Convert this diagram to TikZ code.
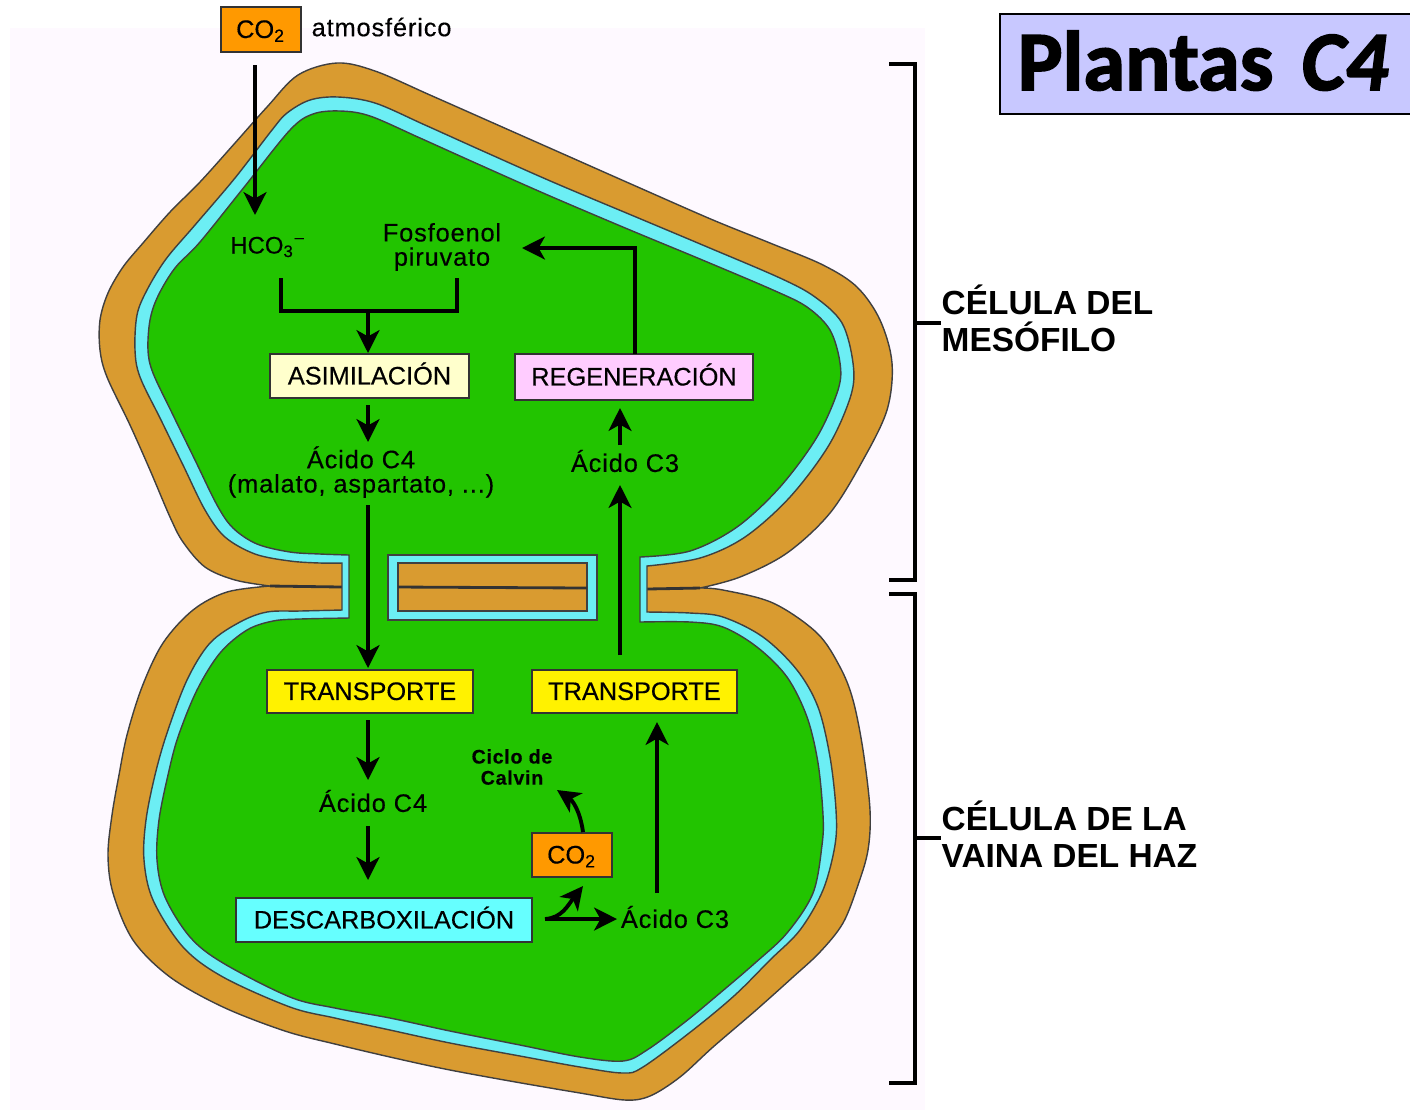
\documentclass[tikz,border=0pt]{standalone}
\usepackage{fontspec}
\setmainfont{Liberation Sans}
\newfontfamily\spacedfont{Liberation Sans}[LetterSpace=3.5,FakeBold=0.35]
\newfontfamily\boxfont{Liberation Sans}[FakeBold=0.35]
\newfontfamily\titlefont{Carlito}[BoldFeatures={FakeBold=2},BoldItalicFeatures={FakeBold=2}]
\usetikzlibrary{arrows.meta}

\definecolor{panelbg}{HTML}{FEF9FF}
\definecolor{wallbrown}{HTML}{D99B30}
\definecolor{rimcyan}{HTML}{6CEEF4}
\definecolor{leafgreen}{HTML}{22C400}
\definecolor{co2orange}{HTML}{FF9900}
\definecolor{titleblue}{HTML}{C8C8FF}
\definecolor{creambox}{HTML}{FFFFCC}
\definecolor{pinkbox}{HTML}{FFCCFF}
\definecolor{cyanbox}{HTML}{66FFFF}

\tikzset{
  shapeline/.style={draw=black!75, line width=0.4pt},
  box/.style={draw=black!80, line width=0.4pt, inner sep=0pt, text height=4.8pt, text depth=0pt, font=\fontsize{7.2}{8.6}\selectfont\boxfont},
  label/.style={inner sep=0pt, align=center, font=\fontsize{7.2}{6.9}\selectfont\spacedfont},
  side/.style={inner sep=0pt, anchor=west, align=left, font=\fontsize{9.5}{10.6}\selectfont\bfseries},
  flow/.style={-{Stealth[length=6.5pt,width=6.5pt,inset=1.8pt]}, line width=1.1pt},
  plain/.style={line width=1.1pt}
}

\begin{document}
\begin{tikzpicture}[x=0.01cm, y=-0.01cm]
    \useasboundingbox (0,0) rectangle (1410,1114);
    \fill[white] (0,0) rectangle (1410,1114);
    \fill[panelbg] (10,28) rectangle (925,1110);

    % Outer wall of both cells
    \draw[shapeline, fill=wallbrown]
      plot[smooth, tension=0.55] coordinates {(270,586) (235,580) (205,567) (183,542) (170,517) (150,470) (130,425) (107,377) (100,350) (100,320) (108,293) (123,267) (143,243) (170,212) (200,182) (235,143) (267,107) (298,75) (337,63) (375,71) (430,95) (500,126) (570,157) (640,188) (713,220) (770,243) (823,265) (857,287) (880,320) (892,363) (887,410) (863,460) (830,513) (787,553) (740,577) (700,588)}
      -- plot[smooth, tension=0.55] coordinates {(700,588) (723,590) (773,603) (817,633) (840,667) (853,700) (863,750) (870,810) (868,850) (858,885) (843,923) (820,952) (793,977) (755,1011) (713,1047) (680,1077) (650,1096) (625,1100) (580,1093) (510,1081) (445,1069) (390,1057) (335,1044) (285,1031) (223,1007) (170,977) (133,940) (113,893) (108,855) (112,815) (119,775) (127,735) (142,687) (163,643) (193,610) (227,592) (270,586)}
      -- cycle;
    \draw[black!80, line width=0.8pt] (270,586) -- (342,587);
    \draw[black!80, line width=0.8pt] (647,589) -- (700,588);

    % Cyan rim
    \draw[shapeline, fill=rimcyan]
      plot[smooth, tension=0.55] coordinates {(342,563) (320,563) (290,561) (255,554) (225,537) (205,510) (183,465) (161,420) (140,377) (135,350) (137,315) (147,290) (166,259) (195,225) (235,178) (272,130) (287,113) (310,100) (338,97) (375,103) (425,125) (485,152) (555,183) (636,217) (705,246) (780,278) (815,297) (842,323) (853,363) (851,395) (829,445) (790,497) (745,537) (700,558) (647,566)}
      -- plot[smooth, tension=0.55] coordinates {(647,612) (690,613) (723,617) (763,637) (797,670) (818,707) (830,757) (836,810) (835,845) (823,890) (800,930) (770,960) (735,995) (693,1030) (643,1067) (623,1073) (580,1067) (520,1056) (450,1043) (390,1030) (335,1018) (290,1007) (223,977) (183,947) (153,900) (144,860) (146,820) (155,775) (167,733) (187,680) (210,643) (240,622) (267,612) (300,611) (342,610)}
      -- cycle;

    % Green stroma
    \draw[shapeline, fill=leafgreen]
      plot[smooth, tension=0.55] coordinates {(349,555) (320,554) (290,552) (257,544) (233,528) (217,505) (195,460) (173,415) (153,373) (148,350) (150,320) (158,296) (175,268) (200,242) (245,186) (290,130) (313,114) (340,111) (370,116) (420,138) (480,165) (550,196) (630,230) (700,259) (773,290) (807,307) (830,330) (840,363) (838,390) (817,437) (780,487) (737,527) (690,551) (640,557)}
      -- plot[smooth, tension=0.55] coordinates {(640,622) (690,622) (723,627) (757,647) (787,677) (807,717) (818,763) (823,815) (822,845) (813,893) (787,933) (755,963) (720,993) (685,1022) (647,1050) (623,1061) (580,1057) (520,1045) (450,1031) (390,1018) (335,1008) (290,997) (223,963) (190,937) (165,897) (157,860) (159,820) (168,775) (178,737) (197,690) (220,653) (247,630) (273,621) (300,619) (349,618)}
      -- cycle;

    % Block between the two channels
    \draw[shapeline, fill=rimcyan] (388,555) rectangle (597,620);
    \draw[shapeline, fill=wallbrown] (398,563) rectangle (587,611);
    \draw[black!80, line width=0.8pt] (398,587) -- (587,588);

    % Boxes
    \node[box, fill=co2orange, minimum width=0.8cm, minimum height=0.45cm] at (261,29.5) (co2top) {CO\textsubscript{2}};
    \node[box, fill=creambox, minimum width=1.99cm, minimum height=0.44cm] at (369.5,376) (asimilacion) {ASIMILACIÓN};
    \node[box, fill=pinkbox, minimum width=2.38cm, minimum height=0.46cm] at (634,377) (regeneracion) {REGENERACIÓN};
    \node[box, fill=yellow, minimum width=2.06cm, minimum height=0.43cm] at (370,691.5) (transporteL) {TRANSPORTE};
    \node[box, fill=yellow, minimum width=2.05cm, minimum height=0.43cm] at (634.5,691.5) (transporteR) {TRANSPORTE};
    \node[box, fill=cyanbox, minimum width=2.96cm, minimum height=0.44cm] at (384,920) (descarbox) {DESCARBOXILACIÓN};
    \node[box, fill=co2orange, minimum width=0.8cm, minimum height=0.44cm] at (572,855) (co2low) {CO\textsubscript{2}};

    % Labels
    \node[label, anchor=west] at (311,27) (atmos) {atmosférico};
    \node[label, font=\fontsize{6.8}{6.9}\selectfont\boxfont] at (268,247) (hco) {HCO\textsubscript{3}\textsuperscript{–}};
    \node[label] at (442,247) (pep) {Fosfoenol\\piruvato};
    \node[label] at (361,472) (acidoA) {Ácido C4\\(malato, aspartato, ...)};
    \node[label] at (625,461) (acidoB) {Ácido C3};
    \node[label] at (373,801) (acidoC) {Ácido C4};
    \node[label] at (675,917) (acidoD) {Ácido C3};
    \node[label, font=\fontsize{5.6}{6}\selectfont\spacedfont\bfseries] at (512,767) (calvin) {Ciclo de\\Calvin};
    \node[side] at (941,318) (mesofilo) {CÉLULA DEL\\MESÓFILO};
    \node[side] at (941,834) (vaina) {CÉLULA DE LA\\VAINA DEL HAZ};

    % Title
    \draw[line width=0.7pt, fill=titleblue] (1000,14) rectangle (1420,114);
    \node[inner sep=0pt, anchor=base west, font=\fontsize{24}{26}\selectfont\titlefont\bfseries] at (1017,90) (titulo) {Plantas\hspace{8pt}{\itshape C4}};

    % Brackets
    \draw[line width=1pt] (889,64) -- (915,64) -- (915,580) -- (889,580);
    \draw[line width=1pt] (915,323) -- (mesofilo.west |- 0,323);
    \draw[line width=1pt] (889,594) -- (915,594) -- (915,1083) -- (889,1083);
    \draw[line width=1pt] (915,838) -- (vaina.west |- 0,838);

    % Arrow ends that stop clear of a box or label
    \coordinate (co2end) at (255,65);
    \coordinate (hcoend) at (255,215);
    \coordinate (hcofoot) at (281,278);
    \coordinate (pepfoot) at (457,278);
    \coordinate (joinL) at (281,311);
    \coordinate (joinR) at (457,311);
    \coordinate (joinC) at (368,311);
    \coordinate (regenUp) at (635,354);
    \coordinate (regenCorner) at (635,248);
    \coordinate (pepIn) at (522,248);
    \coordinate (forkStart) at (545,919);

    % Arrows
    \draw[flow] (co2end) -- (hcoend);
    \draw[plain] (hcofoot) -- (joinL) -- (joinR) -- (pepfoot);
    \draw[flow] (joinC) -- (368,353);
    \draw[flow] (368,405) -- (368,442);
    \draw[flow] (368,505) -- (368,668);
    \draw[flow] (368,720) -- (368,780);
    \draw[flow] (368,826) -- (368,880);
    \draw[flow] (forkStart) -- (617,919);
    \draw[flow] (forkStart) .. controls (562,918) and (568,905) .. (583,886);
    \draw[flow] (583,832) .. controls (580,810) and (572,800) .. (557,790);
    \draw[flow] (657,893) -- (657,722);
    \draw[flow] (620,655) -- (620,485);
    \draw[flow] (620,445) -- (620,408);
    \draw[flow] (regenUp) -- (regenCorner) -- (pepIn);
\end{tikzpicture}
\end{document}
